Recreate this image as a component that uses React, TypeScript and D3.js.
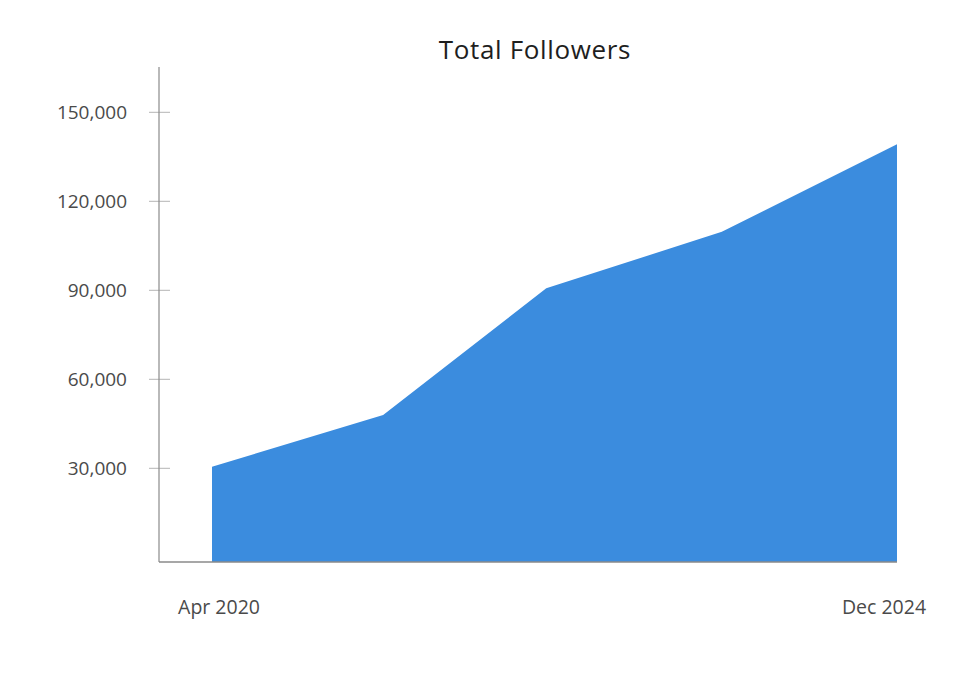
import React from "react";
import * as d3 from "d3";

const dates = ["2020-04-01", "2021-06-01", "2022-07-12", "2023-09-22", "2024-12-01"];
const followers = [30500, 48000, 90700, 109700, 139200];
const yTicks = [30000, 60000, 90000, 120000, 150000];
const xTickLabels = ["Apr 2020", "Dec 2024"];
const title = "Total Followers";

const W = 964;
const H = 674;
const FONT = "'Open Sans', 'Liberation Sans', sans-serif";

export default function App() {
  const parse = d3.timeParse("%Y-%m-%d");
  const data = dates.map((d, i) => ({ date: parse(d) as Date, value: followers[i] }));

  const x = d3
    .scaleTime()
    .domain(d3.extent(data, (d) => d.date) as [Date, Date])
    .range([212, 897]);
  const y = d3.scaleLinear().domain([0, 150000]).range([557.3, 112.3]);
  const axisY = 562;
  const axisX = 159;

  const area = d3
    .area<{ date: Date; value: number }>()
    .x((d) => x(d.date))
    .y0(axisY)
    .y1((d) => y(d.value));

  const fmt = d3.format(",");
  const xLabelPos = [
    { label: xTickLabels[0], date: data[0].date, dx: 7 },
    { label: xTickLabels[1], date: data[data.length - 1].date, dx: -13 },
  ];

  return (
    <svg
      width={W}
      height={H}
      style={{ position: "fixed", left: 0, top: 0, background: "#fff" }}
    >
      <rect x={0} y={0} width={W} height={H} fill="#fff" />
      <text
        x={535}
        y={58.5}
        textAnchor="middle"
        fontFamily={FONT}
        fontSize={26}
        letterSpacing={0.65}
        fill="#1e1e1e"
      >
        {title}
      </text>
      <path d={area(data) || ""} fill="#3b8cde" />
      {yTicks.map((t) => (
        <g key={t}>
          <line x1={149} x2={170} y1={y(t)} y2={y(t)} stroke="#b5b5b5" strokeWidth={1} />
          <text
            x={127}
            y={y(t)}
            dy="0.35em"
            textAnchor="end"
            fontFamily={FONT}
            fontSize={19}
            fill="#4a4a4a"
          >
            {fmt(t)}
          </text>
        </g>
      ))}
      <line x1={axisX} x2={axisX} y1={67} y2={axisY} stroke="#8a8a8a" strokeWidth={1.2} />
      <line x1={axisX} x2={897} y1={axisY} y2={axisY} stroke="#8a8a8a" strokeWidth={1.5} />
      {xLabelPos.map((l) => (
        <text
          key={l.label}
          x={x(l.date) + l.dx}
          y={614}
          textAnchor="middle"
          fontFamily={FONT}
          fontSize={19.5}
          fill="#4a4a4a"
        >
          {l.label}
        </text>
      ))}
    </svg>
  );
}
